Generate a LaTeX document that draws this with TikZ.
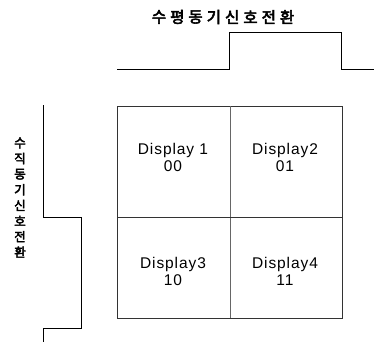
\documentclass[tikz,border=0pt]{standalone}
\usepackage{fontspec}
\setmainfont{Liberation Sans}
\newfontfamily\dispfont[LetterSpace=6]{Liberation Sans}
\newfontfamily\kr[FakeBold=3.5]{Noto Sans CJK KR}
\begin{document}
\begin{tikzpicture}[x=1pt,y=-1pt,
  wave/.style={line width=0.9pt,black},
  grid/.style={line width=0.7pt,black!80},
  disp/.style={font=\dispfont\fontsize{15.5}{17}\selectfont,align=center,inner sep=0pt},
  krtitle/.style={font=\kr\fontsize{15.5}{15.5}\selectfont,inner sep=0pt},
  krvert/.style={font=\kr\fontsize{12.5}{12.5}\selectfont,inner sep=0pt}]
\useasboundingbox (0,0) rectangle (374,342);
% title
\foreach \c [count=\i from 0] in {수,평,동,기,신,호,전,환}
  \node[krtitle] (t\i) at (159+18.3*\i,17) {\c};
% vertical title
\foreach \c [count=\i from 0] in {수,직,동,기,신,호,전,환}
  \node[krvert] (v\i) at (20,143+15.6*\i) {\c};
% top waveform
\coordinate (h0) at (117,69);
\coordinate (h1) at (229.5,69);
\coordinate (h2) at (229.5,32);
\coordinate (h3) at (341.5,32);
\coordinate (h4) at (341.5,69);
\coordinate (h5) at (374,69);
\draw[wave] (h0) -- (h1) -- (h2) -- (h3) -- (h4) -- (h5);
% left waveform
\coordinate (w0) at (43.5,105);
\coordinate (w1) at (43.5,217);
\coordinate (w2) at (81,217);
\coordinate (w3) at (81,328);
\coordinate (w4) at (43.5,328);
\coordinate (w5) at (43.5,342);
\draw[wave] (w0) -- (w1) -- (w2) -- (w3) -- (w4) -- (w5);
% box
\coordinate (b0) at (117,106);
\coordinate (b1) at (342,318);
\draw[grid] (b0) rectangle (b1);
\coordinate (mt) at (230,106);
\coordinate (mb) at (230,318);
\coordinate (ml) at (117,217);
\coordinate (mr) at (342,217);
\draw[line width=0.5pt,black!60] (mt) -- (mb);
\draw[grid] (ml) -- (mr);
% labels
\node[disp] (d1) at (173,157) {Display 1\\00};
\node[disp] (d2) at (285,157) {Display2\\01};
\node[disp] (d3) at (173,271) {Display3\\10};
\node[disp] (d4) at (285,271) {Display4\\11};
\end{tikzpicture}
\end{document}
